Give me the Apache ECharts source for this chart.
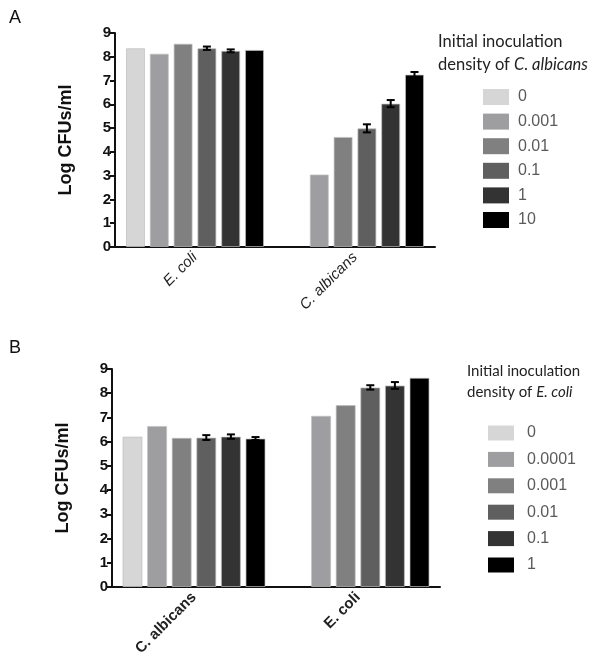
<!DOCTYPE html>
<html>
<head>
<meta charset="utf-8">
<script src="https://cdn.jsdelivr.net/npm/echarts@6/dist/echarts.min.js"></script>
<style>
  html, body { margin: 0; padding: 0; background: #fff; }
  #chart { width: 596px; height: 666px; }
</style>
</head>
<body>
<div id="chart"></div>
<script>
// panel A: C. albicans density series, panel B: E. coli density series
const categoriesA = ['E. coli', 'C. albicans'];
const categoriesB = ['C. albicans', 'E. coli'];
const densitiesA = ['0', '0.001', '0.01', '0.1', '1', '10'];
const densitiesB = ['0', '0.0001', '0.001', '0.01', '0.1', '1'];
const yTicks = [0, 1, 2, 3, 4, 5, 6, 7, 8, 9];

// one row per density, columns follow the categories
const meansA = [
    [8.36, null],
    [8.13, 3.05],
    [8.55, 4.63],
    [8.36, 4.99],
    [8.25, 6.03],
    [8.29, 7.25]
];
const errorsA = [
    [0, 0],
    [0, 0],
    [0, 0],
    [0.07, 0.17],
    [0.06, 0.15],
    [0, 0.11]
];
const meansB = [
    [6.21, null],
    [6.65, 7.07],
    [6.16, 7.51],
    [6.17, 8.24],
    [6.21, 8.32],
    [6.13, 8.64]
];
const errorsB = [
    [0, 0],
    [0, 0],
    [0, 0],
    [0.10, 0.09],
    [0.09, 0.14],
    [0.06, 0]
];

const greys = ['#d6d6d6', '#9e9ea0', '#808080', '#5f5f5f', '#333333', '#000000'];

var chart = echarts.init(document.getElementById('chart'));

function yAxisFor(gridIndex) {
    return {
        type: 'value',
        gridIndex: gridIndex,
        min: 0,
        max: 9,
        interval: 1,
        name: 'Log CFUs/ml',
        nameLocation: 'middle',
        nameGap: 40,
        nameTextStyle: {fontFamily: 'Liberation Sans', fontWeight: 'bold', fontSize: 18, color: '#111'},
        axisLine: {show: true, lineStyle: {color: '#111', width: 2}},
        axisTick: {show: true, length: 5, lineStyle: {color: '#111', width: 2}},
        axisLabel: {
            fontFamily: 'Liberation Sans', fontWeight: 'bold', fontSize: 15, color: '#111', margin: 4,
            formatter: function (v) { return yTicks.indexOf(v) >= 0 ? String(v) : ''; }
        },
        splitLine: {show: false}
    };
}

function xAxisFor(gridIndex, cats, italic) {
    return {
        type: 'category',
        gridIndex: gridIndex,
        data: cats,
        axisLine: {lineStyle: {color: '#111', width: 2}},
        axisTick: {alignWithLabel: true, length: 5, lineStyle: {color: '#111', width: 2}},
        axisLabel: {
            rotate: 45,
            margin: 8,
            fontFamily: 'Liberation Sans',
            fontSize: 15,
            fontStyle: italic ? 'italic' : 'normal',
            fontWeight: italic ? 'normal' : 'bold',
            color: '#222'
        }
    };
}

var series = [];
function addPanel(prefix, gridIndex, labels, means, errors, barWidth, pitch) {
    labels.forEach(function (lab, i) {
        series.push({
            name: prefix + lab,
            type: 'bar',
            xAxisIndex: gridIndex,
            yAxisIndex: gridIndex,
            barWidth: barWidth,
            barGap: ((pitch - barWidth) / barWidth * 100).toFixed(1) + '%',
            itemStyle: {color: greys[i], borderColor: 'rgba(190,190,190,0.7)', borderWidth: 1},
            data: means[i]
        });
    });
    labels.forEach(function (lab, i) {
        var offset = (i - 2.5) * pitch;
        series.push({
            type: 'custom',
            xAxisIndex: gridIndex,
            yAxisIndex: gridIndex,
            z: 5,
            silent: true,
            encode: {x: 0, y: 1},
            data: means[i].map(function (m, c) { return [c, m, errors[i][c]]; }),
            renderItem: function (params, api) {
                var m = api.value(1), e = api.value(2);
                if (!e || isNaN(m)) return null;
                var top = api.coord([api.value(0), m + e]);
                var bot = api.coord([api.value(0), m - e]);
                var x = top[0] + offset;
                var st = {stroke: '#000', lineWidth: 2};
                return {
                    type: 'group',
                    children: [
                        {type: 'line', shape: {x1: x, y1: top[1], x2: x, y2: bot[1]}, style: st},
                        {type: 'line', shape: {x1: x - 4, y1: top[1], x2: x + 4, y2: top[1]}, style: st},
                        {type: 'line', shape: {x1: x - 4, y1: bot[1], x2: x + 4, y2: bot[1]}, style: st}
                    ]
                };
            }
        });
    });
}
addPanel('A:', 0, densitiesA, meansA, errorsA, 19, 23.8);
addPanel('B:', 1, densitiesB, meansB, errorsB, 20, 24.6);

function legendFor(prefix, labels, left, top, h, gap, textPad) {
    return {
        orient: 'vertical',
        left: left,
        top: top,
        padding: 0,
        icon: 'rect',
        itemWidth: 26,
        itemHeight: h,
        itemGap: gap,
        selectedMode: false,
        itemStyle: {borderWidth: 0},
        data: labels.map(function (l) { return prefix + l; }),
        formatter: function (name) { return name.slice(2); },
        textStyle: {fontFamily: 'Liberation Sans', fontSize: 16, color: '#5a5a5a', padding: [0, 0, 0, textPad]}
    };
}

const option = {
    backgroundColor: '#fff',
    animation: false,
    grid: [
        {left: 115, top: 33, width: 320, height: 214},
        {left: 112, top: 369, width: 328, height: 218}
    ],
    xAxis: [xAxisFor(0, categoriesA, true), xAxisFor(1, categoriesB, false)],
    yAxis: [yAxisFor(0), yAxisFor(1)],
    legend: [
        legendFor('A:', densitiesA, 483, 89, 16, 8.6, 4),
        legendFor('B:', densitiesB, 488, 425, 15, 10.4, 8)
    ],
    graphic: [
        {type: 'text', left: 9, top: 9, style: {text: 'A', font: '18px "Liberation Sans"', fill: '#111'}},
        {type: 'text', left: 9, top: 339, style: {text: 'B', font: '18px "Liberation Sans"', fill: '#111'}},
        {
            type: 'text', left: 438, top: 30,
            style: {
                text: 'Initial inoculation\ndensity of {i|C. albicans}',
                font: '16.5px Lato', fill: '#222', lineHeight: 23,
                rich: {i: {fontStyle: 'italic', fontFamily: 'Lato', fontSize: 16.5, fill: '#222'}}
            }
        },
        {
            type: 'text', left: 467, top: 361,
            style: {
                text: 'Initial inoculation\ndensity of {i|E. coli}',
                font: '15px Lato', fill: '#222', lineHeight: 21,
                rich: {i: {fontStyle: 'italic', fontFamily: 'Lato', fontSize: 15, fill: '#222'}}
            }
        }
    ],
    series: series
};
chart.setOption(option);
</script>
</body>
</html>
